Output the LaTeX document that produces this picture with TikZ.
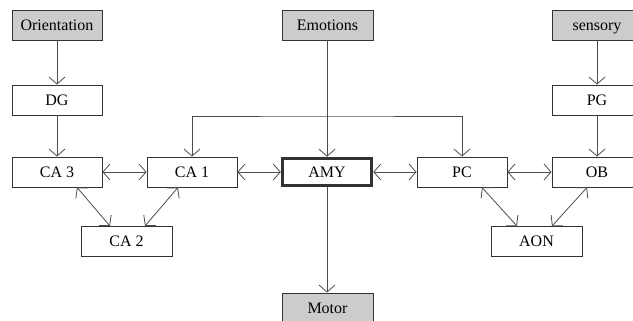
\documentclass[tikz,border=0pt]{standalone}
\usepackage{fontspec}
\setmainfont{Liberation Serif}
\usetikzlibrary{arrows.meta,calc}
\begin{document}
\begin{tikzpicture}[x=1pt,y=-1pt,
  box/.style={draw=black!80,line width=0.9pt,fill=white,rectangle,minimum width=90pt,minimum height=30pt,inner sep=0pt,text height=13pt,text depth=2pt,font=\fontsize{16}{18}\selectfont,text=black},
  ext/.style={box,fill=black!20},
  conn/.style={draw=black!70,line width=0.8pt,-{Straight Barb[length=7pt,width=16pt]}},
  bi/.style={draw=black!70,line width=0.8pt,{Straight Barb[length=7pt,width=16pt]}-{Straight Barb[length=7pt,width=16pt]}}]
\useasboundingbox (0,0) rectangle (633,321);
\clip (0,0) rectangle (633,321);
\node[ext] (ori) at (57,25) {Orientation};
\node[box] (dg) at (57,100) {DG};
\node[ext,minimum width=91pt] (emo) at (327.5,25) {Emotions};
\node[ext] (sen) at (597,25) {sensory};
\node[box] (pg) at (597,100) {PG};
\node[box] (ca3) at (57,172) {CA 3};
\node[box] (ca1) at (192,172) {CA 1};
\node[box,line width=3.5pt,minimum width=89pt,minimum height=27pt] (amy) at (327,172) {AMY};
\node[box] (pc) at (462,172) {PC};
\node[box] (ob) at (597,172) {OB};
\node[box,minimum width=91pt] (ca2) at (126.5,241.5) {CA 2};
\node[box,minimum width=91pt] (aon) at (536.5,241.5) {AON};
\node[ext,minimum width=91pt] (mot) at (327.5,308) {Motor};
\coordinate (top) at (327,116);
\draw[conn] (ori) -- (dg);
\draw[conn] (dg) -- (ca3);
\draw[conn] (sen) -- (pg);
\draw[conn] (pg) -- (ob);
\draw[conn] (emo.south -| amy.north) -- (amy.north);
\draw[bi] (ca1.north) |- (top) -| (pc.north);
\draw[conn] (amy.south) -- (mot.north -| amy.south);
\draw[bi] (ca3.east) -- (ca1.west);
\draw[bi] (ca1.east) -- (amy.west);
\draw[bi] (amy.east) -- (pc.west);
\draw[bi] (pc.east) -- (ob.west);
\draw[bi] ($(ca3.south)+(20,0)$) -- ($(ca2.north)+(-16.5,0)$);
\draw[bi] ($(ca1.south)+(-14,0)$) -- ($(ca2.north)+(18.5,0)$);
\draw[bi] ($(pc.south)+(20,0)$) -- ($(aon.north)+(-19.5,0)$);
\draw[bi] ($(ob.south)+(-10,0)$) -- ($(aon.north)+(15.5,0)$);
\end{tikzpicture}
\end{document}
